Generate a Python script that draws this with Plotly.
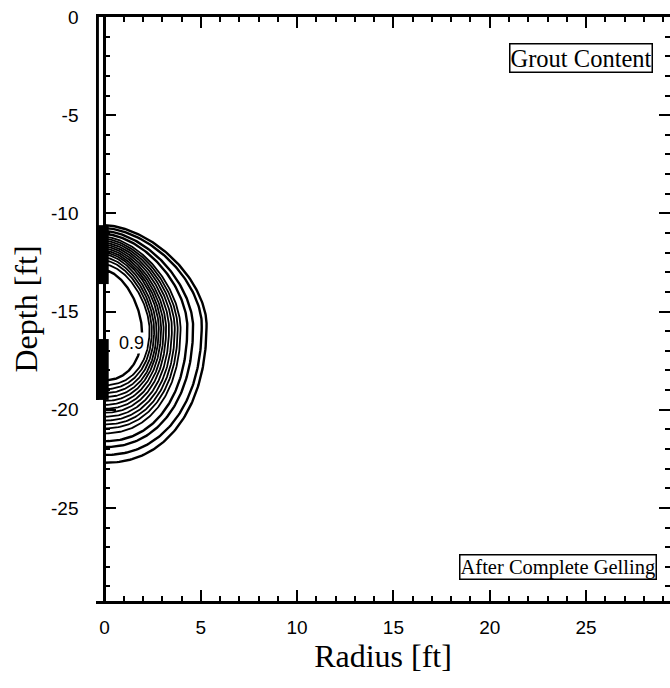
import numpy as np
import plotly.graph_objects as go

# ---- data ----
levels = [0.05, 0.10, 0.15, 0.20, 0.25, 0.30, 0.35, 0.40, 0.45, 0.50,
          0.55, 0.60, 0.65, 0.70, 0.75, 0.80, 0.85, 0.90]
r_max = [5.3, 5.05, 4.6, 4.3, 3.95, 3.8, 3.65, 3.5, 3.35, 3.2,
         3.07, 2.94, 2.82, 2.7, 2.58, 2.46, 2.34, 1.95]
z_top = [-10.6, -10.75, -10.9, -11.05, -11.2, -11.3, -11.4, -11.5, -11.6, -11.7,
         -11.8, -11.9, -12.0, -12.1, -12.25, -12.4, -12.6, -12.9]
z_mid = [-15.6, -15.6, -15.7, -15.7, -15.8, -15.8, -15.8, -15.8, -15.8, -15.8,
         -15.8, -15.8, -15.8, -15.9, -15.9, -15.9, -15.9, -16.0]
z_bot = [-22.7, -22.3, -21.9, -21.6, -21.2, -20.95, -20.75, -20.55, -20.35, -20.15,
         -19.95, -19.75, -19.55, -19.35, -19.15, -18.95, -18.75, -18.5]

# grout injection intervals (depth top, depth bottom) and well radius
inject_top = [-10.6, -16.4]
inject_bot = [-13.6, -19.5]
well_r_out = -0.38
well_r_in = 0.22

x_ticks = [0, 5, 10, 15, 20, 25]
x_ticktext = ["0", "5", "10", "15", "20", "25"]
y_ticks = [0, -5, -10, -15, -20, -25]
y_ticktext = ["0", "-5", "-10", "-15", "-20", "-25"]
label_level = 0.9
label_pos = (1.4, -16.6)

x_range = [-0.44, 29.36]
y_range = [-29.74, 0]
p_top, p_bot = 1.7, 2.2

fig = go.Figure()

t = np.linspace(0, np.pi / 2, 80)
for i, lv in enumerate(levels):
    ct, st = np.cos(t[::-1]), np.sin(t[::-1])
    r1 = r_max[i] * ct ** (2 / p_top)
    z1 = z_mid[i] + (z_top[i] - z_mid[i]) * st ** (2 / p_top)
    cb, sb = np.cos(t), np.sin(t)
    r2 = r_max[i] * cb ** (2 / p_bot)
    z2 = z_mid[i] + (z_bot[i] - z_mid[i]) * sb ** (2 / p_bot)
    r = np.concatenate([r1, r2[1:]])
    z = np.concatenate([z1, z2[1:]])
    w = 2.4 if (i < 4 or lv == label_level) else 1.8
    fig.add_trace(go.Scatter(x=r, y=z, mode="lines",
                             line=dict(color="black", width=w),
                             hoverinfo="skip", showlegend=False))

# empty trace for right mirror axis
fig.add_trace(go.Scatter(x=[], y=[], yaxis="y2", showlegend=False))

shapes = []
for a, b in zip(inject_top, inject_bot):
    shapes.append(dict(type="rect", xref="x", yref="y", x0=x_range[0], x1=well_r_in,
                       y0=b, y1=a, fillcolor="black", line=dict(width=0), layer="above"))
shapes.append(dict(type="line", xref="x", yref="y", x0=well_r_out, x1=well_r_out,
                   y0=0, y1=inject_bot[-1], line=dict(color="black", width=3.5), layer="above"))
fig.update_layout(shapes=shapes)

fig.add_annotation(x=label_pos[0], y=label_pos[1], xref="x", yref="y", text=str(label_level),
                   showarrow=False, font=dict(family="Liberation Sans", size=18, color="black"),
                   bgcolor="white", borderpad=0)

fig.add_annotation(x=0.970, y=0.930, xref="paper", yref="paper", text="Grout Content",
                   xanchor="right", yanchor="middle", showarrow=False,
                   font=dict(family="Liberation Serif", size=24.5, color="black"),
                   bgcolor="white", bordercolor="black", borderwidth=1.5, borderpad=0)
fig.add_annotation(x=0.977, y=0.058, xref="paper", yref="paper", text="After Complete Gelling",
                   xanchor="right", yanchor="middle", showarrow=False,
                   font=dict(family="Liberation Serif", size=20.5, color="black"),
                   bgcolor="white", bordercolor="black", borderwidth=1.5, borderpad=0)

tickfont = dict(family="Liberation Sans", size=19, color="black")
titlefont = dict(family="Liberation Serif", size=32, color="black")
minor = dict(dtick=1, tick0=0, ticks="inside", ticklen=5, tickwidth=1.5,
             tickcolor="black", showgrid=False)

fig.update_layout(
    width=670, height=688,
    margin=dict(l=96, r=0, t=17, b=87),
    paper_bgcolor="white", plot_bgcolor="white",
    xaxis=dict(range=x_range, tickvals=x_ticks, ticktext=x_ticktext, ticks="inside",
               ticklen=11, tickwidth=2, tickcolor="black", showline=True, linewidth=3,
               linecolor="black", mirror="ticks", showgrid=False,
               zeroline=True, zerolinewidth=3, zerolinecolor="black",
               tickfont=tickfont, ticklabelstandoff=7, minor=minor,
               title=dict(text="Radius [ft]", font=titlefont, standoff=6)),
    yaxis=dict(range=y_range, tickvals=y_ticks, ticktext=y_ticktext, ticks="inside",
               ticklen=11, tickwidth=2, tickcolor="black", showline=False,
               anchor="free", position=(0 - x_range[0]) / (x_range[1] - x_range[0]),
               showgrid=False, zeroline=False,
               tickfont=tickfont, ticklabelstandoff=26, minor=minor,
               title=dict(text="Depth [ft]", font=titlefont, standoff=2)),
    yaxis2=dict(range=y_range, overlaying="y", side="right", anchor="x",
                tickvals=y_ticks, ticks="inside", ticklen=11, tickwidth=2, tickcolor="black",
                showticklabels=False, showline=False, showgrid=False, zeroline=False,
                minor=minor),
)

fig.write_html("out.html")
